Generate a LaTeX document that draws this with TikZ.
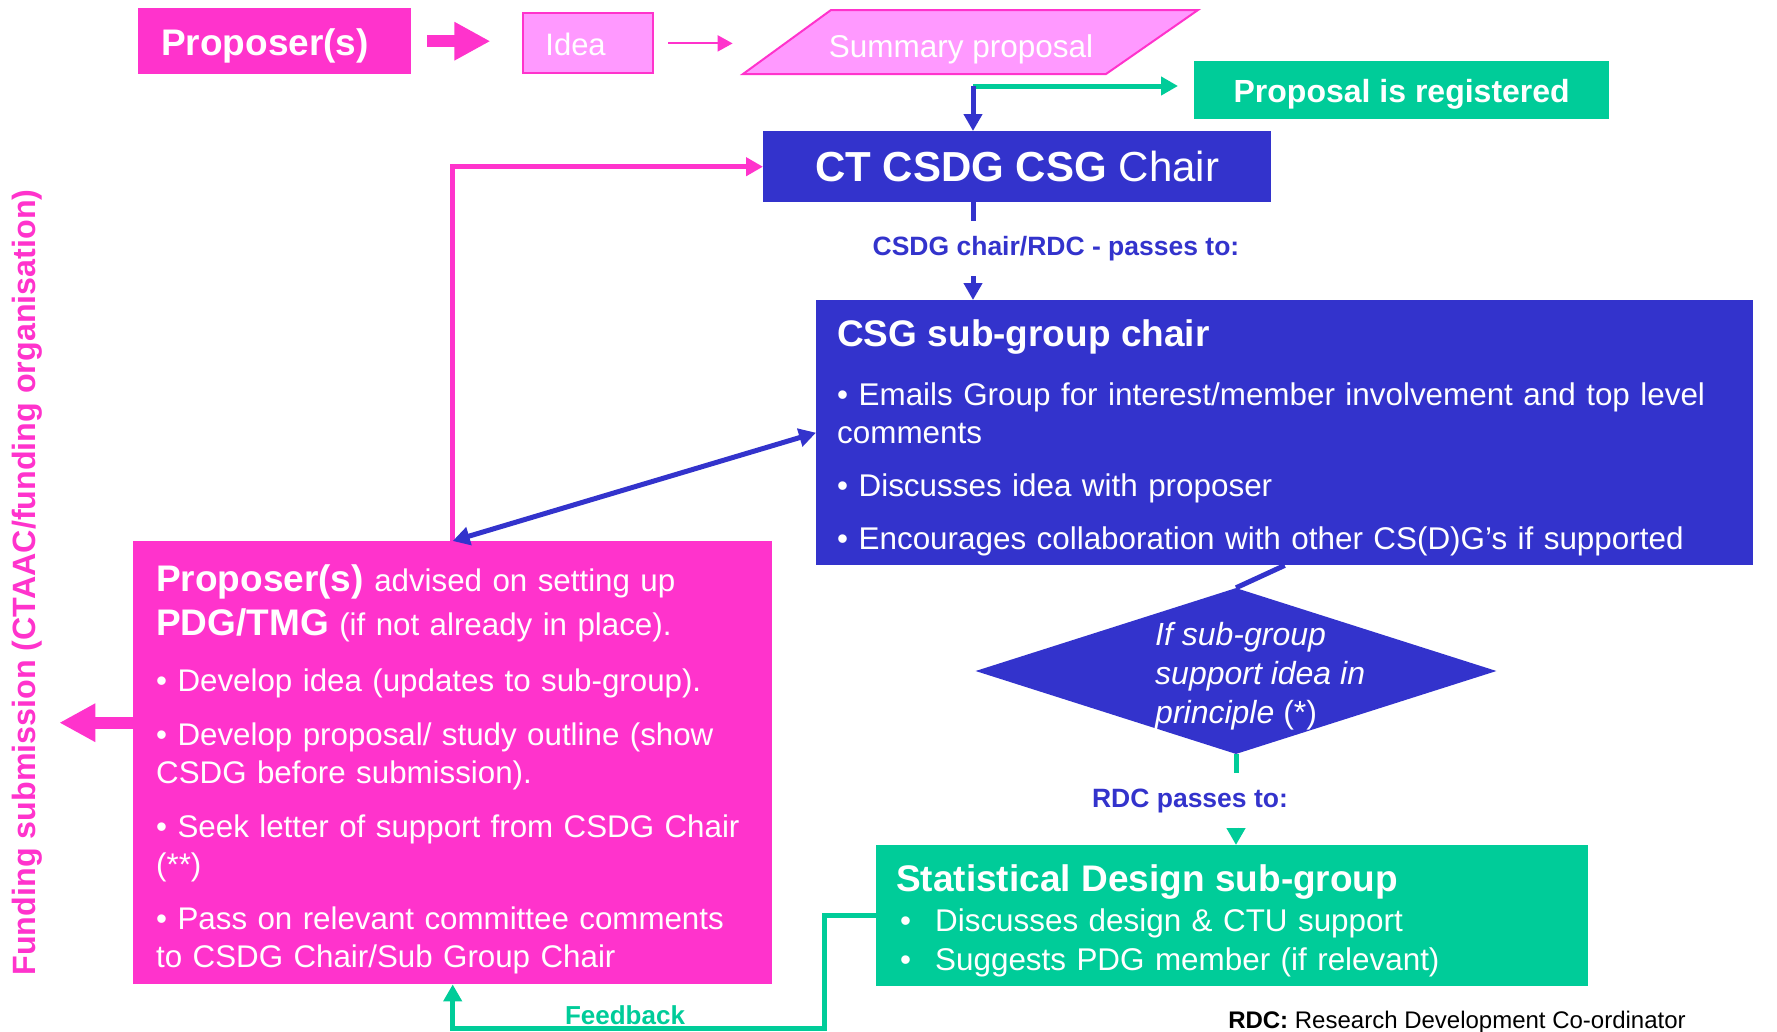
\documentclass[tikz,border=0pt]{standalone}
\usepackage{fontspec}
\setmainfont{Liberation Sans}
\usepackage{tikz}
\usetikzlibrary{arrows.meta, positioning, shapes.geometric}
\definecolor{propcol}{RGB}{255,51,204}
\definecolor{ideacol}{RGB}{255,153,255}
\definecolor{chaircol}{RGB}{51,51,204}
\definecolor{designcol}{RGB}{0,204,153}
\newcommand{\txtsize}[2]{\fontsize{#1}{#2}\selectfont}

\begin{document}
\begin{tikzpicture}[
  x=1pt, y=-1pt,
  >={Triangle[length=17pt, width=18pt]},
  box/.style={inner sep=0pt, text=white, align=center},
  pinkbox/.style={box, fill=propcol},
  lightbox/.style={fill=ideacol, draw=propcol, line width=2pt},
  bluebox/.style={box, fill=chaircol},
  greenbox/.style={box, fill=designcol},
  link/.style={line width=5pt},
  bluelink/.style={link, draw=chaircol},
  pinklink/.style={link, draw=propcol},
  greenlink/.style={link, draw=designcol},
  blockarrow/.style={draw=propcol, line width=12pt, -{Triangle[length=36pt, width=36pt]}},
  passlabel/.style={font=\txtsize{26.5}{30}\bfseries, text=chaircol, inner xsep=2pt, inner ysep=15pt},
  heading/.style={font=\txtsize{37}{44}\bfseries}
]
  \useasboundingbox (0,0) rectangle (1777,1031);

  % top row
  \node[pinkbox, anchor=north west, minimum height=66pt, text width=227pt, inner xsep=23pt,
        text height=28pt, text depth=0pt, align=left, heading] (proposer) at (138,8) {Proposer(s)};
  \node[lightbox, text=white, minimum height=60pt, text width=86pt, text height=24pt, text depth=0pt,
        inner xsep=22pt, inner ysep=0pt, align=left, font=\txtsize{31}{37},
        right=111pt of proposer.south east, anchor=south west] (idea) {Idea};
  \draw[lightbox] (743,74) -- (831,10) -- (1198,10) -- (1106,74) -- cycle;
  \node[text=white, font=\txtsize{31.5}{37}, inner sep=0pt] (summary) at (961,49) {Summary proposal};
  \node[greenbox, anchor=north west, minimum width=415pt, minimum height=58pt, text height=25pt, text depth=0pt,
        font=\txtsize{32}{38}\bfseries] (registered) at (1194,61) {Proposal is registered};
  \coordinate (split) at (973,86);

  \draw[blockarrow, shorten <=16pt, shorten >=32pt] (proposer.east) -- (proposer.east -| idea.west);
  \draw[propcol, line width=2pt, -{Triangle[length=15pt, width=16pt]}, shorten <=14pt, shorten >=96pt]
    (idea.east) -- (idea.east -| summary.west);
  \draw[greenlink, ->, shorten >=16pt] (split) -- (split -| registered.west);

  % chairs
  \node[bluebox, anchor=north west, minimum width=508pt, minimum height=71pt,
        font=\txtsize{42}{50}] (ctchair) at (763,131) {\textbf{CT CSDG CSG} Chair};
  \draw[bluelink, ->] (split) -- (split |- ctchair.north);
  \node[passlabel] (passes) at (1056,248.5) {CSDG chair/RDC - passes to:};
  \node[bluebox, anchor=north west, minimum width=937pt, minimum height=265pt, text width=895pt,
        inner xsep=21pt, align=left, font=\txtsize{31.4}{38.5}] (csg) at (816,300) {%
    {\txtsize{37}{44}\bfseries\rule{0pt}{37.5pt}CSG sub-group chair}\\[20pt]
    • Emails Group for interest/member involvement and top level\\
    comments\\[14.5pt]
    • Discusses idea with proposer\\[14.5pt]
    • Encourages collaboration with other CS(D)G’s if supported};
  \draw[bluelink] (split |- ctchair.south) -- (split |- passes.north);
  \draw[bluelink, ->] (split |- passes.south) -- (split |- csg.north);

  % decision
  \node[diamond, fill=chaircol, minimum width=521pt, minimum height=166pt, inner sep=0pt] (decide) at (1236,671) {};
  \node[anchor=west, align=left, text=white, inner sep=0pt, font=\txtsize{32}{39}\itshape]
    (decidetext) at (1155,676) {If sub-group\\support idea in\\principle {\upshape(*)}};
  \draw[bluelink] (csg.south) -- (decide.north);
  \node[passlabel] (rdc) at (1190,800.5) {RDC passes to:};
  \node[greenbox, anchor=north west, minimum width=712pt, minimum height=141pt, text width=672pt,
        inner xsep=20pt, align=left, font=\txtsize{31.4}{39}] (design) at (876,845) {%
    {\txtsize{37}{44}\bfseries\rule{0pt}{37.5pt}Statistical Design sub-group}\\[1pt]
    \hspace*{4pt}\makebox[35pt][l]{•}Discusses design \& CTU support\\
    \hspace*{4pt}\makebox[35pt][l]{•}Suggests PDG member (if relevant)};
  \draw[greenlink] (decide.south) -- (decide.south |- rdc.north);
  \draw[greenlink, ->] (decide.south |- rdc.south) -- (decide.south |- design.north);

  % proposer work
  \node[pinkbox, anchor=north west, minimum width=639pt, minimum height=443pt, text width=593pt,
        inner xsep=23pt, align=left, font=\txtsize{31.3}{37.5}] (advice) at (133,541) {%
    {\txtsize{37}{44}\bfseries\rule{0pt}{40pt}Proposer(s)} advised on setting up\\[7pt]
    {\txtsize{37}{44}\bfseries PDG/TMG} (if not already in place).\\[18pt]
    • Develop idea (updates to sub-group).\\[17pt]
    • Develop proposal/ study outline (show\\
    CSDG before submission).\\[17pt]
    • Seek letter of support from CSDG Chair\\
    (**)\\[17pt]
    • Pass on relevant committee comments\\
    to CSDG Chair/Sub Group Chair};
  \draw[pinklink, ->] (advice.north) |- (ctchair.west);
  \draw[bluelink, <->] (advice.north) -- (csg.west);

  \node[rotate=90, text=propcol, font=\txtsize{32.25}{38}\bfseries, inner sep=0pt] (funding) at (27,582.5)
    {Funding submission (CTAAC/funding organisation)};
  \draw[blockarrow, shorten >=17pt] ([yshift=40pt]advice.west) -- ([yshift=40pt]advice.west -| funding.south);

  \draw[greenlink, ->] (design.west) -- ++(-52,0) -- ++(0,113) -| (advice.south);
  \node[font=\txtsize{26}{30}\bfseries, text=designcol, inner sep=0pt] (feedback) at (625,1015) {Feedback};
  \node[font=\txtsize{24}{28}, inner sep=0pt] (rdcnote) at (1457,1022)
    {\textbf{RDC:} Research Development Co-ordinator};
\end{tikzpicture}
\end{document}
